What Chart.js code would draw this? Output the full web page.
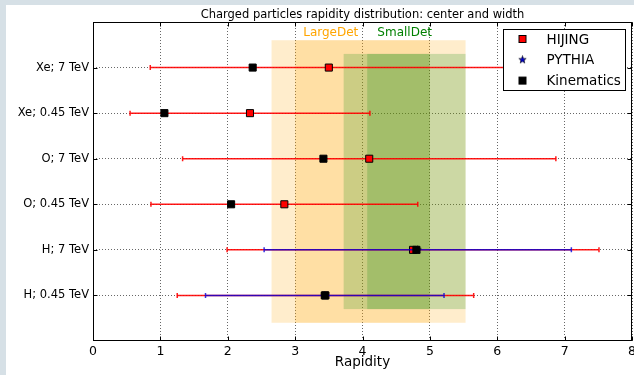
<!DOCTYPE html>
<html><head><meta charset="utf-8">
<script src="https://cdn.jsdelivr.net/npm/chart.js@4/dist/chart.umd.min.js"></script>
<style>
html,body{margin:0;padding:0;background:#d6e0e6;width:634px;height:375px;overflow:hidden}
#wrap{position:absolute;left:6px;top:5px;width:628px;height:370px;background:#fff;overflow:hidden}
canvas{display:block}
</style></head><body>
<div id="wrap"><canvas id="c" width="632" height="370"></canvas></div>
<script>
// ---- data ----
const categories = ['H; 0.45 TeV','H; 7 TeV','O; 0.45 TeV','O; 7 TeV','Xe; 0.45 TeV','Xe; 7 TeV'];
const categoryPositions = [1,2,3,4,5,6];
const hijingCenter = [3.45,4.75,2.84,4.10,2.33,3.50];
const hijingWidth  = [2.20,2.76,1.98,2.77,1.78,2.65];
const pythiaCenter = [3.44,4.82,null,null,null,null];
const pythiaWidth  = [1.77,2.28,null,null,null,null];
const kinematicsCenter = [3.44,4.80,2.05,3.42,1.06,2.37];
const xTickValues = [0,1,2,3,4,5,6,7,8];
const regionNames = ['LargeDet','SmallDet'];
const regionOuterX = [[2.65,5.53],[3.72,5.53]];
const regionInnerX = [[3.00,5.00],[4.07,5.00]];
const regionY = [[0.4,6.6],[0.7,6.3]];
const regionLabelX = [3.12,4.22];
const regionLabelY = 6.76;
const titleText = 'Charged particles rapidity distribution: center and width';
const xTitle = 'Rapidity';

// ---- styles ----
const FONT = '"DejaVu Sans", sans-serif';
const regionFill = ['rgba(255,165,0,0.2)','rgba(0,128,0,0.2)'];
const regionText = ['#ffa500','#008000'];

function makeStar(size, fill){
  const c = document.createElement('canvas');
  c.width = size; c.height = size;
  const g = c.getContext('2d');
  const cx = size/2, cy = size/2, R = size/2-0.6, r = R*0.42;
  g.beginPath();
  for(let k=0;k<10;k++){
    const ang = -Math.PI/2 + k*Math.PI/5;
    const rad = k%2===0 ? R : r;
    const px = cx + rad*Math.cos(ang), py = cy + rad*Math.sin(ang);
    k===0 ? g.moveTo(px,py) : g.lineTo(px,py);
  }
  g.closePath();
  g.fillStyle = fill; g.fill();
  g.lineWidth = 0.6; g.strokeStyle = '#000'; g.stroke();
  return c;
}
const starImg = makeStar(9,'#0000cc');

function pts(centers){
  const out=[];
  centers.forEach((c,i)=>{ if(c!==null) out.push({x:c,y:categoryPositions[i]}); });
  return out;
}

const plugin = {
  id:'custom',
  beforeDatasetsDraw(chart){
    const {ctx, chartArea:a, scales:{x,y}} = chart;
    ctx.save();
    ctx.beginPath(); ctx.rect(a.left,a.top,a.right-a.left,a.bottom-a.top); ctx.clip();
    regionNames.forEach((n,i)=>{
      ctx.fillStyle = regionFill[i];
      [regionOuterX[i], regionInnerX[i]].forEach(r=>{
        const x0=x.getPixelForValue(r[0]), x1=x.getPixelForValue(r[1]);
        const y0=y.getPixelForValue(regionY[i][1]), y1=y.getPixelForValue(regionY[i][0]);
        ctx.fillRect(x0,y0,x1-x0,y1-y0);
      });
    });
    regionNames.forEach((n,i)=>{
      ctx.fillStyle = regionText[i];
      ctx.font = '12px '+FONT;
      ctx.textBaseline='middle'; ctx.textAlign='left';
      ctx.fillText(n, x.getPixelForValue(regionLabelX[i]), y.getPixelForValue(regionLabelY));
    });
    ctx.restore();
  },
  beforeDatasetDraw(chart,args){
    const ds = chart.data.datasets[args.index];
    if(!ds.errCenter) return;
    const {ctx, scales:{x,y}} = chart;
    ctx.save();
    ctx.strokeStyle = ds.errColor; ctx.lineWidth = 1.5;
    ds.errCenter.forEach((c,i)=>{
      if(c===null) return;
      const w = ds.errWidth[i];
      const yp = y.getPixelForValue(categoryPositions[i]);
      const xl = x.getPixelForValue(c-w), xr = x.getPixelForValue(c+w);
      ctx.beginPath();
      ctx.moveTo(xl,yp); ctx.lineTo(xr,yp);
      ctx.moveTo(xl,yp-2.5); ctx.lineTo(xl,yp+2.5);
      ctx.moveTo(xr,yp-2.5); ctx.lineTo(xr,yp+2.5);
      ctx.stroke();
    });
    ctx.restore();
  },
  afterDatasetsDraw(chart){
    const {ctx, chartArea:a, scales:{x,y}} = chart;
    ctx.save();
    // frame
    ctx.strokeStyle='#000'; ctx.lineWidth=1;
    const L=Math.round(a.left)+0.5, R=Math.round(a.right)-0.5, T=Math.round(a.top)+0.5, B=Math.round(a.bottom)-0.5;
    ctx.strokeRect(L,T,R-L,B-T);
    // inward ticks
    ctx.beginPath();
    xTickValues.forEach(v=>{
      const px = Math.round(x.getPixelForValue(v))+0.5;
      ctx.moveTo(px,B); ctx.lineTo(px,B-4);
      ctx.moveTo(px,T); ctx.lineTo(px,T+4);
    });
    categoryPositions.forEach(v=>{
      const py = Math.round(y.getPixelForValue(v))+0.5;
      ctx.moveTo(L,py); ctx.lineTo(L+4,py);
      ctx.moveTo(R,py); ctx.lineTo(R-4,py);
    });
    ctx.stroke();
    // title
    ctx.fillStyle='#000';
    ctx.font='11.5px '+FONT; ctx.textAlign='center'; ctx.textBaseline='middle';
    ctx.fillText(titleText,(a.left+a.right)/2,a.top-7);
    // legend
    const lx = a.right-128.5, ly = a.top+7.5, lw=122, lh=61;
    ctx.fillStyle='#fff'; ctx.fillRect(lx,ly,lw,lh);
    ctx.strokeStyle='#000'; ctx.lineWidth=1; ctx.strokeRect(lx,ly,lw,lh);
    ctx.font='13.5px '+FONT; ctx.textAlign='left'; ctx.textBaseline='middle';
    chart.data.datasets.slice().sort((p,q)=>p.legendIndex-q.legendIndex).forEach((ds,k)=>{
      const cy = ly + 9.5 + k*20.8, mx = lx + 19;
      if(ds.pointStyle==='rect'){
        ctx.fillStyle = ds.backgroundColor; ctx.fillRect(mx-3.5,cy-3.5,7,7);
        ctx.strokeStyle='#000'; ctx.lineWidth=1; ctx.strokeRect(mx-3.5,cy-3.5,7,7);
      } else {
        ctx.drawImage(starImg, mx-starImg.width/2, cy-starImg.height/2);
      }
      ctx.fillStyle='#000';
      ctx.fillText(ds.label, lx+43, cy+1);
    });
    ctx.restore();
  }
};

const datasets = [
  {label:'Kinematics', legendIndex:2, order:0, data:pts(kinematicsCenter),
   pointStyle:'rect', pointRadius:5, backgroundColor:'#000', borderColor:'#000', borderWidth:1},
  {label:'PYTHIA', legendIndex:1, order:1, data:pts(pythiaCenter),
   pointStyle:starImg, pointRadius:5, backgroundColor:'#0000cc', borderColor:'#000', borderWidth:0.6,
   errCenter:pythiaCenter, errWidth:pythiaWidth, errColor:'rgba(0,0,220,0.8)'},
  {label:'HIJING', legendIndex:0, order:2, data:pts(hijingCenter),
   pointStyle:'rect', pointRadius:5, backgroundColor:'#ff0000', borderColor:'#000', borderWidth:1,
   errCenter:hijingCenter, errWidth:hijingWidth, errColor:'rgba(255,0,0,0.9)'}
];

new Chart(document.getElementById('c'),{
  type:'scatter',
  data:{datasets},
  options:{
    responsive:false, animation:false, devicePixelRatio:1,
    layout:{padding:{top:17,right:0,left:0,bottom:0}},
    plugins:{legend:{display:false},tooltip:{enabled:false},title:{display:false}},
    scales:{
      x:{type:'linear',min:0,max:8,
        afterBuildTicks(s){ s.ticks = xTickValues.map(v=>({value:v})); },
        ticks:{color:'#000',font:{family:FONT,size:12.5},padding:3,maxRotation:0,autoSkip:false},
        grid:{color:'rgba(0,0,0,0.75)',lineWidth:0.8,drawTicks:false},
        border:{display:false,dash:[1,2]},
        title:{display:true,text:xTitle,color:'#000',font:{family:FONT,size:13.5},padding:{top:0,bottom:4}},
        afterFit(s){ s.height=34; s.paddingLeft=0; s.paddingRight=0; }
      },
      y:{type:'linear',min:0,max:7,
        afterBuildTicks(s){ s.ticks = categoryPositions.map(v=>({value:v})); },
        ticks:{color:'#000',font:{family:FONT,size:11.5},padding:4,autoSkip:false,
          callback:(v)=>categories[categoryPositions.indexOf(v)]},
        grid:{color:'rgba(0,0,0,0.75)',lineWidth:0.8,drawTicks:false},
        border:{display:false,dash:[1,2]},
        afterFit(s){ s.width=87; s.paddingTop=0; s.paddingBottom=0; }
      }
    }
  },
  plugins:[plugin]
});
</script>
</body></html>
